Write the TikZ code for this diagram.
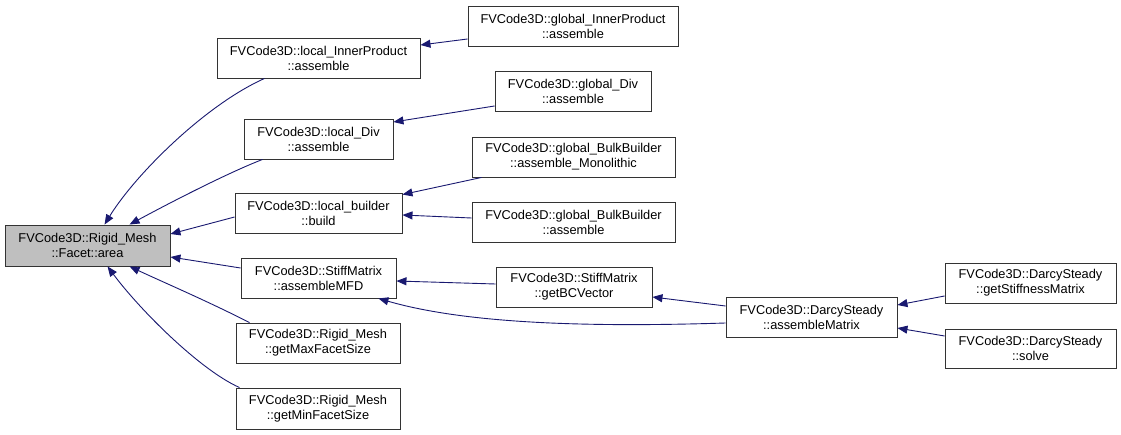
\documentclass[tikz,border=0pt]{standalone}
\usepackage{fontspec}
\setmainfont{Liberation Sans}
\usetikzlibrary{arrows.meta,calc}
\definecolor{edgecol}{HTML}{191970}
\definecolor{rootgray}{HTML}{BFBFBF}
\begin{document}
\begin{tikzpicture}[x=1pt,y=-1pt,
  box/.style={draw=black!80, line width=0.9pt, fill=white, font=\fontsize{12.8}{15}\selectfont, align=center, inner sep=0pt, minimum height=40pt},
  edge/.style={draw=edgecol, line width=0.9pt, -{Triangle[length=10pt,width=8pt]}}]
\useasboundingbox (0,0) rectangle (1121,435);
\node[box, fill=rootgray, minimum width=165pt, minimum height=41pt] (root) at (87.5,245.5) {FVCode3D::Rigid\_Mesh\\::Facet::area};
\node[box, minimum width=203pt] (lip) at (318.5,58) {FVCode3D::local\_InnerProduct\\::assemble};
\node[box, minimum width=149pt] (ldiv) at (318.5,139) {FVCode3D::local\_Div\\::assemble};
\node[box, minimum width=167pt] (lb) at (318.5,213) {FVCode3D::local\_builder\\::build};
\node[box, minimum width=155pt] (mfd) at (318.5,278) {FVCode3D::StiffMatrix\\::assembleMFD};
\node[box, minimum width=164pt] (max) at (318,343) {FVCode3D::Rigid\_Mesh\\::getMaxFacetSize};
\node[box, minimum width=164pt, minimum height=41pt] (min) at (318,408.5) {FVCode3D::Rigid\_Mesh\\::getMinFacetSize};
\node[box, minimum width=210pt] (gip) at (573,26) {FVCode3D::global\_InnerProduct\\::assemble};
\node[box, minimum width=156pt] (gdiv) at (573,91) {FVCode3D::global\_Div\\::assemble};
\node[box, minimum width=203pt] (gbm) at (573.5,157) {FVCode3D::global\_BulkBuilder\\::assemble\_Monolithic};
\node[box, minimum width=203pt] (gba) at (573.5,222) {FVCode3D::global\_BulkBuilder\\::assemble};
\node[box, minimum width=156pt] (bcv) at (574,287) {FVCode3D::StiffMatrix\\::getBCVector};
\node[box, minimum width=171pt] (am) at (811.5,317) {FVCode3D::DarcySteady\\::assembleMatrix};
\node[box, minimum width=171pt] (gsm) at (1030.5,283) {FVCode3D::DarcySteady\\::getStiffnessMatrix};
\node[box, minimum width=171pt, minimum height=39pt] (solve) at (1030.5,348.5) {FVCode3D::DarcySteady\\::solve};
% edges into root
\draw[edge] ($(lip.south west)+(48,0)$) .. controls (205,105) and (135,175) .. ($(root.north west)+(100,0)$);
\draw[edge] ($(ldiv.south west)+(19,0)$) .. controls (230,172) and (175,200) .. ($(root.north west)+(125,0)$);
\draw[edge] ($(lb.west)+(0,4)$) -- ($(root.east)+(0,-11.5)$);
\draw[edge] ($(mfd.west)+(0,-10)$) -- ($(root.east)+(0,11.5)$);
\draw[edge] ($(max.north west)+(14,0)$) .. controls (205,300) and (165,283) .. ($(root.south west)+(125,0)$);
\draw[edge] ($(min.north west)+(4,0)$) .. controls (200,370) and (140,310) .. ($(root.south west)+(103,0)$);
% second level
\draw[edge] ($(gip.west)+(0,13)$) -- ($(lip.east)+(0,-13)$);
\draw[edge] ($(gdiv.west)+(0,15)$) -- ($(ldiv.east)+(0,-17)$);
\draw[edge] ($(gbm.south west)+(10,0)$) -- ($(lb.north east)+(0,2)$);
\draw[edge] ($(gba.west)+(0,-4)$) -- ($(lb.east)+(0,2)$);
\draw[edge] ($(bcv.west)+(0,-3)$) -- ($(mfd.east)+(0,3)$);
\draw[edge] ($(am.west)+(0,-11)$) -- ($(bcv.east)+(0,10)$);
\draw[edge] ($(am.west)+(0,6)$) .. controls (600,327) and (470,325) .. ($(mfd.south east)+(-18,0)$);
\draw[edge] ($(gsm.west)+(0,13)$) -- ($(am.east)+(0,-12)$);
\draw[edge] ($(solve.west)+(0,-12.5)$) -- ($(am.east)+(0,11)$);
\end{tikzpicture}
\end{document}
